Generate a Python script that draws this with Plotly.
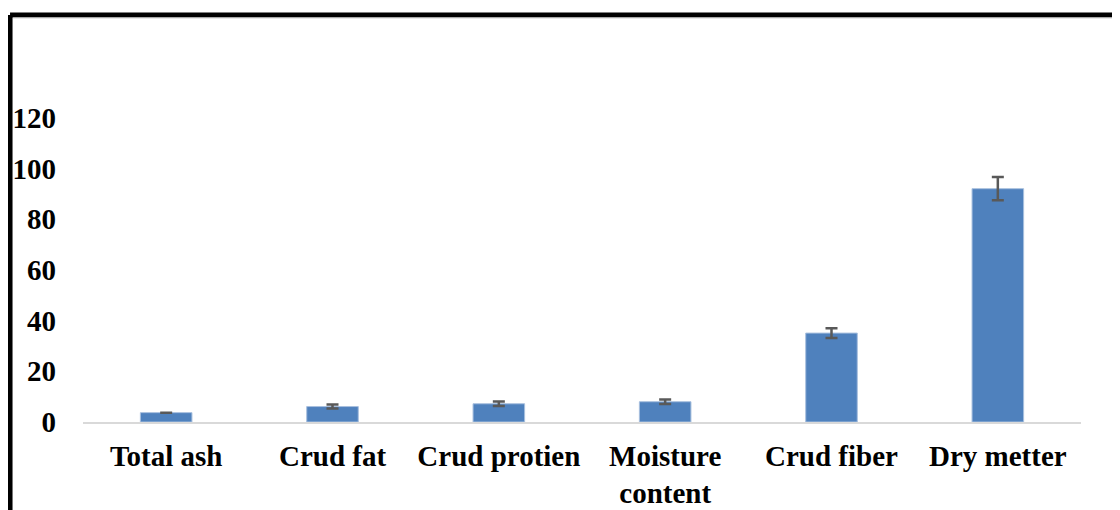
import plotly.graph_objects as go

categories = ["Total ash", "Crud fat", "Crud protien", "Moisture<br>content", "Crud fiber", "Dry metter"]
values = [3.7, 6.1, 7.2, 8.0, 35.1, 92.1]
errors = [None, 0.8, 0.85, 0.9, 1.9, 4.6]
y_ticks = [0, 20, 40, 60, 80, 100, 120]

# the page body adds an 8px margin, so target pixel p maps to figure pixel p - OFF
OFF = 8
W, H = 1120, 510
L, R, T, B = 83 - OFF, 1081.5 - OFF, 118 - OFF, 422 - OFF

fig = go.Figure()
fig.add_trace(go.Bar(
    x=categories, y=values,
    marker=dict(color="#4F81BD", line=dict(color="#A7BFDE", width=1)),
    error_y=dict(type="data", array=errors, visible=True, color="#595959", thickness=2.5, width=6),
    width=0.31,
))

def px_x(p):
    return (p - OFF - L) / (R - L)

def px_y(p):
    return (B - (p - OFF)) / (B - T)

border = dict(color="black", width=5)
fig.add_shape(type="line", xref="paper", yref="paper",
              x0=px_x(10), x1=px_x(1140), y0=px_y(15), y1=px_y(15), line=border)
fig.add_shape(type="line", xref="paper", yref="paper",
              x0=px_x(10), x1=px_x(10), y0=px_y(15), y1=px_y(540), line=border)
fig.add_shape(type="line", xref="paper", yref="paper",
              x0=px_x(13), x1=px_x(1140), y0=px_y(18), y1=px_y(18),
              line=dict(color="#D0D0D0", width=1))

font = dict(family="Liberation Serif", size=29, color="black", weight="bold")
fig.update_layout(
    width=W, height=H,
    margin=dict(l=L, r=W - R, t=T, b=H - B, pad=0),
    plot_bgcolor="white", paper_bgcolor="white",
    showlegend=False,
    xaxis=dict(showline=True, linecolor="#D9D9D9", linewidth=1.5, showgrid=False,
               tickfont=font, ticks="", ticklabelstandoff=7, automargin=False),
    yaxis=dict(range=[0, 120], tickvals=y_ticks, showgrid=False, zeroline=False,
               showline=False, tickfont=font, ticks="", ticklabelstandoff=26,
               automargin=False),
)
fig.write_html("out.html")
